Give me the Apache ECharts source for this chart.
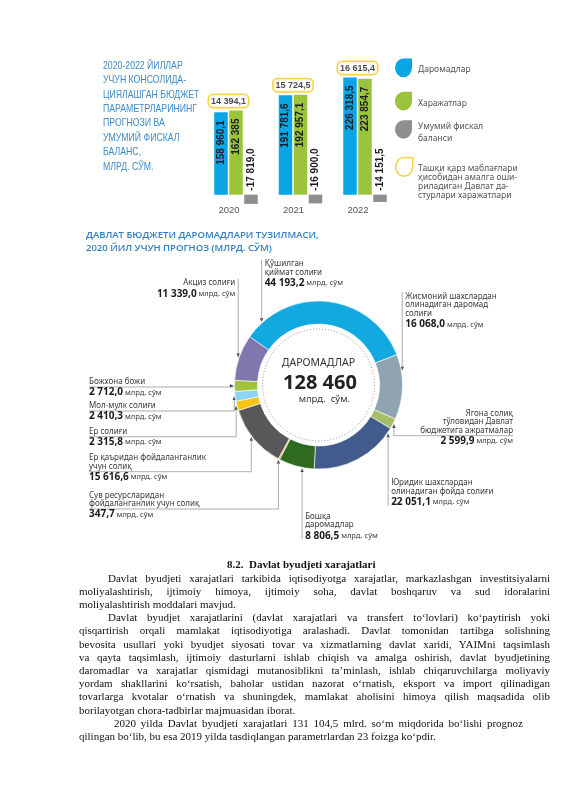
<!DOCTYPE html>
<html><head><meta charset="utf-8">
<script src="https://cdn.jsdelivr.net/npm/echarts@6/dist/echarts.min.js"></script>
<style>
html,body{margin:0;padding:0;background:#fff;}
#wrap{position:relative;width:565px;height:800px;overflow:hidden;background:#fff;}
#chart{position:absolute;left:0;top:0;width:565px;height:800px;}
#text{position:absolute;left:79px;top:558.4px;width:471px;font-family:'Liberation Serif','Times New Roman',serif;font-size:11px;line-height:13.2px;color:#111;}
#text .l{text-align:justify;text-align-last:justify;}
#text .e{text-align:left;text-align-last:left;}
#text .i{padding-left:29px;}
#text .t{font-weight:bold;padding-left:148px;}
</style></head>
<body><div id="wrap"><div id="chart"></div>
<div id="text">
<div class="t">8.2.&nbsp; Davlat byudjeti xarajatlari</div>
<div class="l i">Davlat byudjeti xarajatlari tarkibida iqtisodiyotga xarajatlar, markazlashgan investitsiyalarni</div>
<div class="l">moliyalashtirish, ijtimoiy himoya, ijtimoiy soha, davlat boshqaruv va sud idoralarini</div>
<div class="e">moliyalashtirish moddalari mavjud.</div>
<div class="l i">Davlat byudjet xarajatlarini (davlat xarajatlari va transfert to‘lovlari) ko‘paytirish yoki</div>
<div class="l">qisqartirish orqali mamlakat iqtisodiyotiga aralashadi. Davlat tomonidan tartibga solishning</div>
<div class="l">bevosita usullari yoki byudjet siyosati tovar va xizmatlarning davlat xaridi, YAIMni taqsimlash</div>
<div class="l">va qayta taqsimlash, ijtimoiy dasturlarni ishlab chiqish va amalga oshirish, davlat  byudjetining</div>
<div class="l">daromadlar va xarajatlar qismidagi mutanosiblikni ta’minlash, ishlab chiqaruvchilarga moliyaviy</div>
<div class="l">yordam shakllarini ko‘rsatish, baholar ustidan nazorat o‘rnatish, eksport va import qilinadigan</div>
<div class="l">tovarlarga kvotalar o‘rnatish va shuningdek, mamlakat aholisini himoya qilish maqsadida olib</div>
<div class="e">borilayotgan chora-tadbirlar majmuasidan iborat.</div>
<div class="l" style="padding-left:35px;padding-right:27px;">2020 yilda Davlat byudjeti xarajatlari 131 104,5 mlrd. so‘m miqdorida bo‘lishi prognoz</div>
<div class="e">qilingan bo‘lib, bu esa 2019 yilda tasdiqlangan parametrlardan 23 foizga ko‘pdir.</div>
</div></div>
<script>
// ---------- DATA ----------
const years = ['2020', '2021', '2022'];
const revenues = [158960.1, 191781.6, 226318.5];
const expenses = [162385, 192957.1, 223854.7];
const fiscalBalance = [-17819.0, -16900.0, -14151.5];
const externalDebtPrograms = [14394.1, 15724.5, 16615.4];
const seriesNames = ['Даромадлар', 'Харажатлар', 'Умумий фискал баланси',
  'Ташқи қарз маблағлари ҳисобидан амалга ошириладиган Давлат дастурлари харажатлари'];
const legendLines = ['Даромадлар', 'Харажатлар', 'Умумий фискал\nбаланси',
  'Ташқи қарз маблағлари\nҳисобидан амалга оши-\nриладиган Давлат да-\nстурлари харажатлари'];

const pieNames = ['Қўшилган\nқиймат солиғи', 'Жисмоний шахслардан\nолинадиган даромад\nсолиғи',
  'Ягона солиқ\nтўловидан Давлат\nбюджетига ажратмалар', 'Юридик шахслардан\nолинадиган фойда солиғи',
  'Бошқа\nдаромадлар', 'Сув ресурсларидан\nфойдаланганлик учун солиқ',
  'Ер қаъридан фойдаланганлик\nучун солиқ', 'Ер солиғи', 'Мол-мулк солиғи', 'Божхона божи', 'Акциз солиғи'];
const pieValues = [44193.2, 16068.0, 2599.9, 22051.1, 8806.5, 347.7, 15616.6, 2315.8, 2410.3, 2712.0, 11339.0];
const totalRevenueText = '128 460';

// ---------- STYLE ----------
const pieColors = ['#12a9e1', '#8fa3b1', '#a8bd6a', '#425b8d', '#2f6b1f', '#f0a055',
  '#58585a', '#f6c417', '#8dd4f2', '#9fc43c', '#7f78ae'];
const CX = 318.5, CY = 385, R_IN = 61, R_OUT = 84, START = 145;
const NAME_LH = 8.5, VALUE_LH = 13;
const labelCfg = [
  {t: 0.105, mode: 'up', side: 'right', top: 259.8},
  {t: 0.248, mode: 'up', side: 'right', top: 292.4},
  {t: 0.5, mode: 'elbow', lineY: 435.7, endX: 513},
  {t: 0.062, mode: 'down', side: 'right', top: 478.8},
  {t: 0.33, mode: 'down', side: 'right', top: 512.4},
  {t: 0.5, mode: 'elbow', lineY: 509, endX: 89},
  {t: 0.54, mode: 'elbow', lineY: 471.7, endX: 89},
  {t: 0.5, mode: 'elbow', lineY: 436.7, endX: 89},
  {t: 0.5, mode: 'elbow', lineY: 411, endX: 89},
  {t: 0.5, mode: 'elbow', lineY: 387, endX: 89},
  {t: 0.5, mode: 'up', side: 'left', top: 278.8}
];
const LEGEND_ICON = 'path://M50,0 L100,0 L100,55 A50,55 0 1 1 50,0 Z';
// icon top, text first-line centre, text line height
const legendSpec = [
  {iconTop: 58.3, textY: 69.3, lh: 10, style: {color: '#0aa5e5'}},
  {iconTop: 91.7, textY: 103.3, lh: 10, style: {color: '#9bc43c'}},
  {iconTop: 120, textY: 126.7, lh: 11.6, style: {color: '#8e8e8e'}},
  {iconTop: 156.7, textY: 168.3, lh: 9.2, style: {color: '#ffffff', borderColor: '#f5c518', borderWidth: 1.5}}
];
const ICON_W = 17, ICON_H = 19, LEGEND_X = 395, LEGEND_TEXT_X = 418;

function fmt(v, d) {
  const neg = v < 0;
  const s = Math.abs(v).toFixed(d).split('.');
  const int = s[0].replace(/\B(?=(\d{3})+(?!\d))/g, ' ');
  return (neg ? '-' : '') + int + (d ? ',' + s[1] : '');
}
function anchor(i, t) {
  const total = pieValues.reduce((a, b) => a + b, 0);
  let cum = 0;
  for (let k = 0; k < i; k++) cum += pieValues[k];
  const deg = START - (cum + t * pieValues[i]) / total * 360;
  const r = R_OUT + 1, rad = deg * Math.PI / 180;
  return [CX + r * Math.cos(rad), CY - r * Math.sin(rad)];
}
function alignOf(i) {
  const c = labelCfg[i];
  if (c.mode === 'elbow') return c.endX < CX ? 'left' : 'right';
  return c.side === 'left' ? 'right' : 'left';
}
function layoutFor(i) {
  const c = labelCfg[i];
  const a = anchor(i, c.t), ax = a[0], ay = a[1];
  const nameH = pieNames[i].split('\n').length * NAME_LH;
  const totalH = nameH + VALUE_LH;
  let x, y, pts;
  if (c.mode === 'up') {
    y = c.top; x = c.side === 'right' ? ax + 3 : ax - 3;
    pts = [[ax, ay], [ax, c.top], [ax, c.top]];
  } else if (c.mode === 'down') {
    y = c.top; x = ax + 3;
    const by = c.top + totalH - 3;
    pts = [[ax, ay], [ax, by], [ax, by]];
  } else {
    y = c.lineY - nameH - 1; x = c.endX;
    pts = [[ax, ay], [ax, c.lineY], [c.endX, c.lineY]];
  }
  return {x: x, y: y, align: alignOf(i), pts: pts};
}
function arrowHead(i) {
  const p = layoutFor(i).pts;
  const tip = p[0];
  let from = p[1];
  if (Math.hypot(from[0] - tip[0], from[1] - tip[1]) < 4) from = p[2];
  let dx = tip[0] - from[0], dy = tip[1] - from[1];
  const L = Math.hypot(dx, dy) || 1; dx /= L; dy /= L;
  const bx = tip[0] - dx * 3.6, by = tip[1] - dy * 3.6;
  return [[tip[0], tip[1]], [bx - dy * 1.7, by + dx * 1.7], [bx + dy * 1.7, by - dx * 1.7]];
}

const FONT_LBL = '"Noto Sans", "DejaVu Sans", sans-serif';
const barLabel = {
  show: true, rotate: 90, fontFamily: 'Liberation Sans, Arial, sans-serif',
  fontWeight: 'bold', fontSize: 10, color: '#1b1b24'
};

const chart = echarts.init(document.getElementById('chart'), null, {renderer: 'canvas'});
chart.setOption({
  animation: false,
  backgroundColor: '#fff',
  textStyle: {fontFamily: FONT_LBL},
  legend: legendSpec.map((s, k) => ({
    left: LEGEND_X, top: s.iconTop, orient: 'vertical', padding: 0, itemWidth: ICON_W, itemHeight: ICON_H,
    itemGap: 0, selectedMode: false,
    data: [{name: seriesNames[k], icon: LEGEND_ICON, itemStyle: s.style}],
    formatter: () => ''
  })),
  grid: {left: 203.75, top: 60, width: 193.5, height: 145},
  xAxis: {
    type: 'category', data: years,
    axisLine: {show: false, onZero: true}, axisTick: {show: false}, splitLine: {show: false},
    axisLabel: {margin: 0, color: '#555', fontSize: 9.5, fontFamily: 'Liberation Sans, Arial', padding: [0, 14, 0, 0]}
  },
  yAxis: {type: 'value', min: -20000, max: 260000, show: false, splitLine: {show: false}},
  series: [
    {
      name: seriesNames[0], type: 'bar', data: revenues, barWidth: 13.5, barGap: '11%',
      itemStyle: {color: '#0aa5e5'},
      label: Object.assign({}, barLabel, {position: 'insideTop', align: 'right', verticalAlign: 'middle', distance: 8,
        formatter: p => fmt(p.value, 1)})
    },
    {
      name: seriesNames[1], type: 'bar', data: expenses, barWidth: 13.5, barGap: '11%',
      itemStyle: {color: '#9bc43c'},
      label: Object.assign({}, barLabel, {position: 'insideTop', align: 'right', verticalAlign: 'middle', distance: 8,
        formatter: p => fmt(p.value, Number.isInteger(p.value) ? 0 : 1)})
    },
    {
      name: seriesNames[2], type: 'bar', data: fiscalBalance, barWidth: 13.5, barGap: '11%',
      itemStyle: {color: '#8e8e8e'},
      label: Object.assign({}, barLabel, {position: 'top', align: 'left', verticalAlign: 'middle', distance: 4,
        formatter: p => fmt(p.value, 1)})
    },
    {
      name: seriesNames[3], type: 'scatter', symbolSize: 1, itemStyle: {color: 'rgba(0,0,0,0)'},
      data: years.map((y, i) => [i, Math.max(revenues[i], expenses[i])]),
      label: {
        show: true, position: 'top', distance: 3, offset: [-7.5, 0],
        formatter: p => fmt(externalDebtPrograms[p.dataIndex], 1),
        backgroundColor: '#fff', borderColor: '#f5c518', borderWidth: 1.5, borderRadius: 4,
        padding: [2, 2, 1, 2], fontWeight: 'bold', fontSize: 9, color: '#1b1b24',
        fontFamily: 'Liberation Sans, Arial, sans-serif'
      }
    },
    {
      type: 'pie', center: [CX, CY], radius: [R_IN, R_OUT], startAngle: START, clockwise: true,
      avoidLabelOverlap: false, silent: true, emphasis: {disabled: true},
      itemStyle: {borderColor: '#fff', borderWidth: 0.6},
      data: pieValues.map((v, i) => ({name: pieNames[i], value: v, itemStyle: {color: pieColors[i]}})),
      label: {
        show: true, position: 'outside',
        formatter: p => {
          const i = p.dataIndex, r = alignOf(i) === 'right' ? 'R' : '';
          const lines = pieNames[i].split('\n').map(s => '{n' + r + '|' + s + '}').join('\n');
          return lines + '\n{v' + r + '|' + fmt(pieValues[i], 1) + '}{u' + r + '| млрд. сўм}';
        },
        rich: {
          n: {fontSize: 8, lineHeight: NAME_LH, color: '#3a3a3a', fontFamily: FONT_LBL},
          v: {fontSize: 10, lineHeight: VALUE_LH, fontWeight: 'bold', color: '#1a1a1a', fontFamily: FONT_LBL},
          u: {fontSize: 7.5, lineHeight: VALUE_LH, color: '#3a3a3a', fontFamily: FONT_LBL},
          nR: {align: 'right', fontSize: 8, lineHeight: NAME_LH, color: '#3a3a3a', fontFamily: FONT_LBL},
          vR: {align: 'right', fontSize: 10, lineHeight: VALUE_LH, fontWeight: 'bold', color: '#1a1a1a', fontFamily: FONT_LBL},
          uR: {align: 'right', fontSize: 7.5, lineHeight: VALUE_LH, color: '#3a3a3a', fontFamily: FONT_LBL}
        }
      },
      labelLine: {show: true, length: 2, length2: 2, smooth: false, lineStyle: {color: '#8a8a8a', width: 0.7}},
      labelLayout: function (p) {
        const L = layoutFor(p.dataIndex);
        return {x: L.x, y: L.y, align: L.align, verticalAlign: 'top', labelLinePoints: L.pts};
      }
    }
  ],
  graphic: [
    {type: 'text', x: 103, y: 58.8, scaleX: 0.83, silent: true,
      style: {text: '2020-2022 ЙИЛЛАР\nУЧУН КОНСОЛИДА-\nЦИЯЛАШГАН БЮДЖЕТ\nПАРАМЕТРЛАРИНИНГ\nПРОГНОЗИ ВА\nУМУМИЙ ФИСКАЛ\nБАЛАНС,\nМЛРД. СЎМ.',
        x: 0, y: 0, font: '10.5px "Liberation Sans", Arial, sans-serif', lineHeight: 14.4, fill: '#3f8ac8'}},
    {type: 'text', x: 86, y: 229.5, silent: true,
      style: {text: 'ДАВЛАТ БЮДЖЕТИ ДАРОМАДЛАРИ ТУЗИЛМАСИ,\n2020 ЙИЛ УЧУН ПРОГНОЗ (МЛРД. СЎМ)',
        x: 0, y: 0, font: '600 9.5px "Open Sans", sans-serif', lineHeight: 12.4, fill: '#2f7ec1'}},
    {type: 'circle', silent: true, shape: {cx: CX, cy: CY, r: R_IN - 5},
      style: {fill: 'none', stroke: '#777', lineWidth: 0.8, lineDash: [1, 2]}},
    {type: 'text', silent: true, style: {text: 'ДАРОМАДЛАР', x: CX, y: 363, textAlign: 'center', textVerticalAlign: 'middle',
      align: 'center', verticalAlign: 'middle', font: '10.5px "Noto Sans", sans-serif', fill: '#333'}},
    {type: 'text', silent: true, style: {text: totalRevenueText, x: CX + 1.5, y: 383.5, textAlign: 'center', textVerticalAlign: 'middle',
      align: 'center', verticalAlign: 'middle', font: 'bold 20px "Noto Sans", sans-serif', fill: '#222'}},
    {type: 'text', silent: true, style: {text: 'млрд.  сўм.', x: 350, y: 399.5, textAlign: 'right', textVerticalAlign: 'middle',
      align: 'right', verticalAlign: 'middle', font: '9.5px "Noto Sans", sans-serif', fill: '#333'}}
  ].concat(legendSpec.map((s, k) => ({
    type: 'text', silent: true, x: LEGEND_TEXT_X, y: s.textY - s.lh / 2,
    style: {text: legendLines[k], x: 0, y: 0, font: '8.5px ' + FONT_LBL, lineHeight: s.lh, fill: '#555',
      textVerticalAlign: 'top', verticalAlign: 'top'}
  }))).concat(pieValues.map((v, i) => ({
    type: 'polygon', silent: true, shape: {points: arrowHead(i)}, style: {fill: '#333'}
  })))
});
</script>
</body></html>
